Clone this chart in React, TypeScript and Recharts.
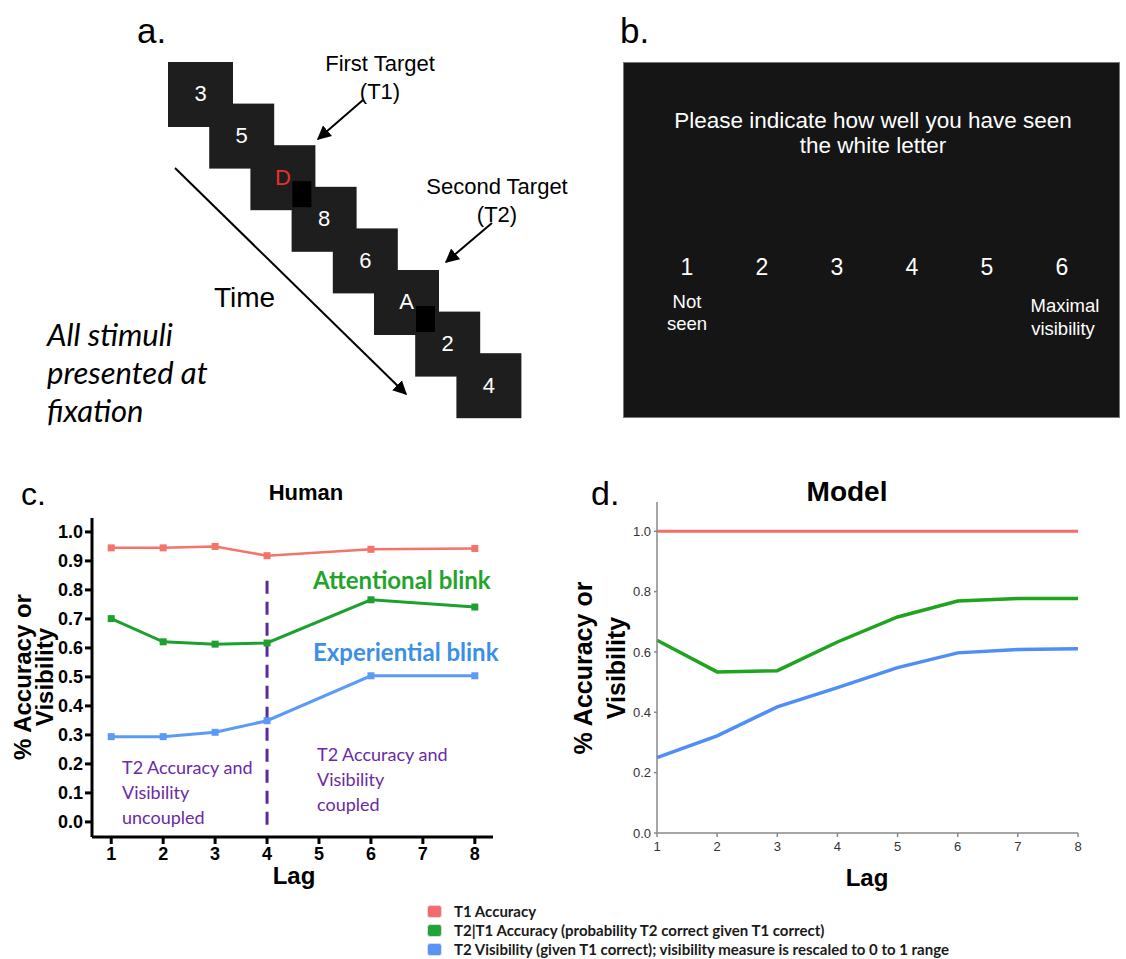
import React from 'react';
import { LineChart, Line, XAxis, YAxis, ReferenceLine } from 'recharts';

// panel c (human) values
const humanLags = [1, 2, 3, 4, 6, 8];
const humanT1 = [0.945, 0.945, 0.95, 0.918, 0.94, 0.943];
const humanT2 = [0.701, 0.621, 0.613, 0.617, 0.766, 0.741];
const humanVis = [0.294, 0.294, 0.309, 0.349, 0.504, 0.504];

// panel d (model) values
const modelLags = [1, 2, 3, 4, 5, 6, 7, 8];
const modelT1 = [1, 1, 1, 1, 1, 1, 1, 1];
const modelT2 = [0.639, 0.534, 0.538, 0.633, 0.716, 0.769, 0.777, 0.777];
const modelVis = [0.25, 0.322, 0.418, 0.482, 0.548, 0.597, 0.608, 0.611];

const lagTicks = [1, 2, 3, 4, 5, 6, 7, 8];
const humanYTicks = [0, 0.1, 0.2, 0.3, 0.4, 0.5, 0.6, 0.7, 0.8, 0.9, 1.0];
const modelYTicks = [0, 0.2, 0.4, 0.6, 0.8, 1.0];

// dashed "coupling" marker in panel c
const coupleLag = 4;
const coupleFrom = -0.01;
const coupleTo = 0.845;

const legendItems = [
  { label: 'T1 Accuracy', color: '#f46b6b' },
  { label: 'T2|T1  Accuracy (probability T2 correct given T1 correct)', color: '#1ea537' },
  { label: 'T2 Visibility (given T1 correct); visibility measure is rescaled to 0 to 1 range', color: '#5b92f5' },
];

// panel a: RSVP stream, panel b: rating screen
const stimuli = ['3', '5', 'D', '8', '6', 'A', '2', '4'];
const targetIdx = [2, 5];
const ratingScale = ['1', '2', '3', '4', '5', '6'];

const humanData = humanLags.map((lag, i) => ({ lag, t1: humanT1[i], t2: humanT2[i], vis: humanVis[i] }));
const modelData = modelLags.map((lag, i) => ({ lag, t1: modelT1[i], t2: modelT2[i], vis: modelVis[i] }));

const ARIAL = '"Liberation Sans", Arial, sans-serif';
const CALIBRI = 'Lato, "Open Sans", sans-serif';

const HC = { red: '#f4736b', green: '#1ca12f', blue: '#5b9bf7' };
const MC = { red: '#f46b6b', green: '#1fa41f', blue: '#4f8ef6' };
const PURPLE = '#6a2aa6';

type TxtProps = {
  x: number;
  y: number;
  anchor?: 'start' | 'middle' | 'end';
  style?: React.CSSProperties;
  children: React.ReactNode;
};

// absolutely placed text, y is the vertical centre
const Txt = ({ x, y, anchor = 'start', style, children }: TxtProps) => {
  const tx = anchor === 'start' ? '0' : anchor === 'middle' ? '-50%' : '-100%';
  return (
    <div
      style={{
        position: 'absolute',
        left: x,
        top: y,
        transform: `translate(${tx}, -50%)`,
        whiteSpace: 'nowrap',
        lineHeight: 1,
        ...style,
      }}
    >
      {children}
    </div>
  );
};

const VLabel = ({ x, y, lh, size }: { x: number; y: number; lh: number; size: number }) => (
  <div
    style={{
      position: 'absolute',
      left: x,
      top: y,
      transform: 'translate(-50%, -50%) rotate(-90deg)',
      whiteSpace: 'nowrap',
      textAlign: 'center',
      fontFamily: ARIAL,
      fontWeight: 700,
      fontSize: size,
      lineHeight: `${lh}px`,
      color: '#000',
    }}
  >
    % Accuracy or
    <br />
    Visibility
  </div>
);

const SquareDot = (props: any) => {
  const { cx, cy, stroke, index } = props;
  if (cx == null || cy == null) return <g key={index} />;
  return <rect key={index} x={cx - 3.5} y={cy - 3.5} width={7} height={7} fill={stroke} />;
};

const StimulusPanel = () => {
  const x0 = 168;
  const y0 = 62;
  const dx = 41.2;
  const dy = 41.6;
  const size = 65;
  return (
    <svg width={600} height={440} style={{ position: 'absolute', left: 0, top: 0 }}>
      <defs>
        <marker id="arr" viewBox="0 0 10 10" refX="9" refY="5" markerWidth="7" markerHeight="7" orient="auto-start-reverse">
          <path d="M0,0 L10,5 L0,10 z" fill="#000" />
        </marker>
      </defs>
      {stimuli.map((s, i) => (
        <rect key={'sq' + i} x={x0 + i * dx} y={y0 + i * dy} width={size} height={size} fill="#1e1e1e" />
      ))}
      {targetIdx.map((i) => (
        <rect key={'m' + i} x={x0 + i * dx + 42} y={y0 + i * dy + 36} width={19} height={26} fill="#000" />
      ))}
      {stimuli.map((s, i) => (
        <text
          key={'t' + i}
          x={x0 + i * dx + size / 2}
          y={y0 + i * dy + size / 2 + 1}
          textAnchor="middle"
          dominantBaseline="middle"
          fontFamily={ARIAL}
          fontSize={22}
          fill={i === 2 ? '#e8302e' : '#fff'}
        >
          {s}
        </text>
      ))}
      <line x1={363} y1={100} x2={318} y2={139} stroke="#000" strokeWidth={2} markerEnd="url(#arr)" />
      <line x1={492} y1={223} x2={446} y2={262} stroke="#000" strokeWidth={2} markerEnd="url(#arr)" />
      <line x1={175} y1={168} x2={406} y2={394} stroke="#000" strokeWidth={2} markerEnd="url(#arr)" />
    </svg>
  );
};

export default function App() {
  return (
    <div
      style={{
        position: 'absolute',
        left: 0,
        top: 0,
        width: 1126,
        height: 959,
        background: '#fff',
        overflow: 'hidden',
        fontFamily: ARIAL,
      }}
    >
      {/* ---------- a ---------- */}
      <Txt x={137} y={30} style={{ fontSize: 35 }}>a.</Txt>
      <StimulusPanel />
      <Txt x={380} y={64} anchor="middle" style={{ fontSize: 22 }}>First Target</Txt>
      <Txt x={380} y={92} anchor="middle" style={{ fontSize: 22 }}>(T1)</Txt>
      <Txt x={497} y={187} anchor="middle" style={{ fontSize: 22 }}>Second Target</Txt>
      <Txt x={497} y={215} anchor="middle" style={{ fontSize: 22 }}>(T2)</Txt>
      <Txt x={214} y={298} style={{ fontSize: 28 }}>Time</Txt>
      {['All stimuli', 'presented at', 'fixation'].map((s, i) => (
        <Txt key={s} x={47} y={334 + i * 38} style={{ fontSize: 31, fontStyle: 'italic', fontFamily: CALIBRI }}>
          {s}
        </Txt>
      ))}

      {/* ---------- b ---------- */}
      <Txt x={620} y={30} style={{ fontSize: 35 }}>b.</Txt>
      <div
        style={{
          position: 'absolute',
          left: 623,
          top: 62,
          width: 497,
          height: 356,
          background: '#151515',
          border: '1px solid #777',
          boxSizing: 'border-box',
        }}
      />
      <Txt x={873} y={121} anchor="middle" style={{ fontSize: 22.5, color: '#fff' }}>
        Please indicate how well you have seen
      </Txt>
      <Txt x={873} y={146} anchor="middle" style={{ fontSize: 22.5, color: '#fff' }}>the white letter</Txt>
      {ratingScale.map((n, i) => (
        <Txt key={n} x={687 + i * 75} y={267} anchor="middle" style={{ fontSize: 23, color: '#fff' }}>
          {n}
        </Txt>
      ))}
      <Txt x={687} y={302} anchor="middle" style={{ fontSize: 18.5, color: '#fff' }}>Not</Txt>
      <Txt x={687} y={324} anchor="middle" style={{ fontSize: 18.5, color: '#fff' }}>seen</Txt>
      <Txt x={1065} y={306} anchor="middle" style={{ fontSize: 18.5, color: '#fff' }}>Maximal</Txt>
      <Txt x={1063} y={329} anchor="middle" style={{ fontSize: 18.5, color: '#fff' }}>visibility</Txt>

      {/* ---------- c: Human ---------- */}
      <Txt x={21} y={494} style={{ fontSize: 32 }}>c.</Txt>
      <Txt x={306} y={493} anchor="middle" style={{ fontSize: 22, fontWeight: 700 }}>Human</Txt>
      <div style={{ position: 'absolute', left: 0, top: 470 }}>
        <LineChart width={560} height={420} data={humanData} margin={{ top: 48, right: 67, bottom: 23, left: 52 }}>
          <XAxis
            type="number"
            dataKey="lag"
            domain={[0.63, 8.35]}
            ticks={lagTicks}
            interval={0}
            height={30}
            allowDataOverflow
            tickSize={7}
            tickMargin={3}
            axisLine={{ stroke: '#000', strokeWidth: 3 }}
            tickLine={{ stroke: '#000', strokeWidth: 3 }}
            tick={{ fill: '#000', fontSize: 18, fontWeight: 700, fontFamily: ARIAL }}
          />
          <YAxis
            type="number"
            domain={[-0.052, 1.048]}
            ticks={humanYTicks}
            interval={0}
            width={40}
            allowDataOverflow
            tickSize={7}
            tickMargin={2}
            tickFormatter={(v: number) => v.toFixed(1)}
            axisLine={{ stroke: '#000', strokeWidth: 3 }}
            tickLine={{ stroke: '#000', strokeWidth: 3 }}
            tick={{ fill: '#000', fontSize: 18, fontWeight: 700, fontFamily: ARIAL }}
          />
          <ReferenceLine
            segment={[
              { x: coupleLag, y: coupleFrom },
              { x: coupleLag, y: coupleTo },
            ]}
            stroke="#5a2a9a"
            strokeWidth={3}
            strokeDasharray="13 8"
          />
          <Line dataKey="t1" stroke={HC.red} strokeWidth={2.5} dot={SquareDot} isAnimationActive={false} />
          <Line dataKey="t2" stroke={HC.green} strokeWidth={3} dot={SquareDot} isAnimationActive={false} />
          <Line dataKey="vis" stroke={HC.blue} strokeWidth={3} dot={SquareDot} isAnimationActive={false} />
        </LineChart>
      </div>
      <VLabel x={34} y={677} lh={22} size={24} />
      <Txt x={294} y={876} anchor="middle" style={{ fontSize: 24, fontWeight: 700 }}>Lag</Txt>
      <Txt x={313} y={580} style={{ fontSize: 24, fontWeight: 700, fontFamily: CALIBRI, color: '#1fa52a' }}>
        Attentional blink
      </Txt>
      <Txt x={313} y={652} style={{ fontSize: 24, fontWeight: 700, fontFamily: CALIBRI, color: '#3a8fe6' }}>
        Experiential blink
      </Txt>
      {['T2 Accuracy and', 'Visibility', 'uncoupled'].map((s, i) => (
        <Txt key={s} x={122} y={767 + i * 25} style={{ fontSize: 18, fontFamily: CALIBRI, color: PURPLE }}>
          {s}
        </Txt>
      ))}
      {['T2 Accuracy and', 'Visibility', 'coupled'].map((s, i) => (
        <Txt key={s} x={317} y={754 + i * 25} style={{ fontSize: 18, fontFamily: CALIBRI, color: PURPLE }}>
          {s}
        </Txt>
      ))}

      {/* ---------- d: Model ---------- */}
      <Txt x={591} y={493} style={{ fontSize: 34 }}>d.</Txt>
      <Txt x={847} y={492} anchor="middle" style={{ fontSize: 28, fontWeight: 700 }}>Model</Txt>
      <div style={{ position: 'absolute', left: 560, top: 470 }}>
        <LineChart width={566} height={420} data={modelData} margin={{ top: 32, right: 48, bottom: 27, left: 57 }}>
          <XAxis
            type="number"
            dataKey="lag"
            domain={[1, 8]}
            ticks={lagTicks}
            interval={0}
            height={30}
            tickSize={4}
            tickMargin={5}
            axisLine={{ stroke: '#888', strokeWidth: 1.5 }}
            tickLine={{ stroke: '#888', strokeWidth: 1.5 }}
            tick={{ fill: '#333', fontSize: 13, fontFamily: ARIAL }}
          />
          <YAxis
            type="number"
            domain={[0, 1.097]}
            ticks={modelYTicks}
            interval={0}
            width={40}
            allowDataOverflow
            tickSize={3}
            tickMargin={3}
            tickFormatter={(v: number) => v.toFixed(1)}
            axisLine={{ stroke: '#888', strokeWidth: 1.5 }}
            tickLine={{ stroke: '#888', strokeWidth: 1.5 }}
            tick={{ fill: '#333', fontSize: 13, fontFamily: ARIAL }}
          />
          <Line dataKey="t1" type="linear" stroke={MC.red} strokeWidth={3} dot={false} isAnimationActive={false} />
          <Line dataKey="t2" type="linear" stroke={MC.green} strokeWidth={3.5} dot={false} isAnimationActive={false} />
          <Line dataKey="vis" type="linear" stroke={MC.blue} strokeWidth={3.5} dot={false} isAnimationActive={false} />
        </LineChart>
      </div>
      <VLabel x={600} y={668} lh={33} size={25} />
      <Txt x={867} y={878} anchor="middle" style={{ fontSize: 24, fontWeight: 700 }}>Lag</Txt>

      {/* ---------- legend ---------- */}
      {legendItems.map((it, i) => (
        <div
          key={it.label}
          style={{
            position: 'absolute',
            left: 427,
            top: 902 + i * 19,
            display: 'flex',
            alignItems: 'center',
            whiteSpace: 'nowrap',
          }}
        >
          <div
            style={{
              width: 13,
              height: 11,
              borderRadius: 3,
              background: it.color,
              border: '1px solid #ddd',
              marginRight: 12,
            }}
          />
          <span style={{ fontFamily: CALIBRI, fontWeight: 700, fontSize: 15, color: '#1a1a1a' }}>{it.label}</span>
        </div>
      ))}
    </div>
  );
}
